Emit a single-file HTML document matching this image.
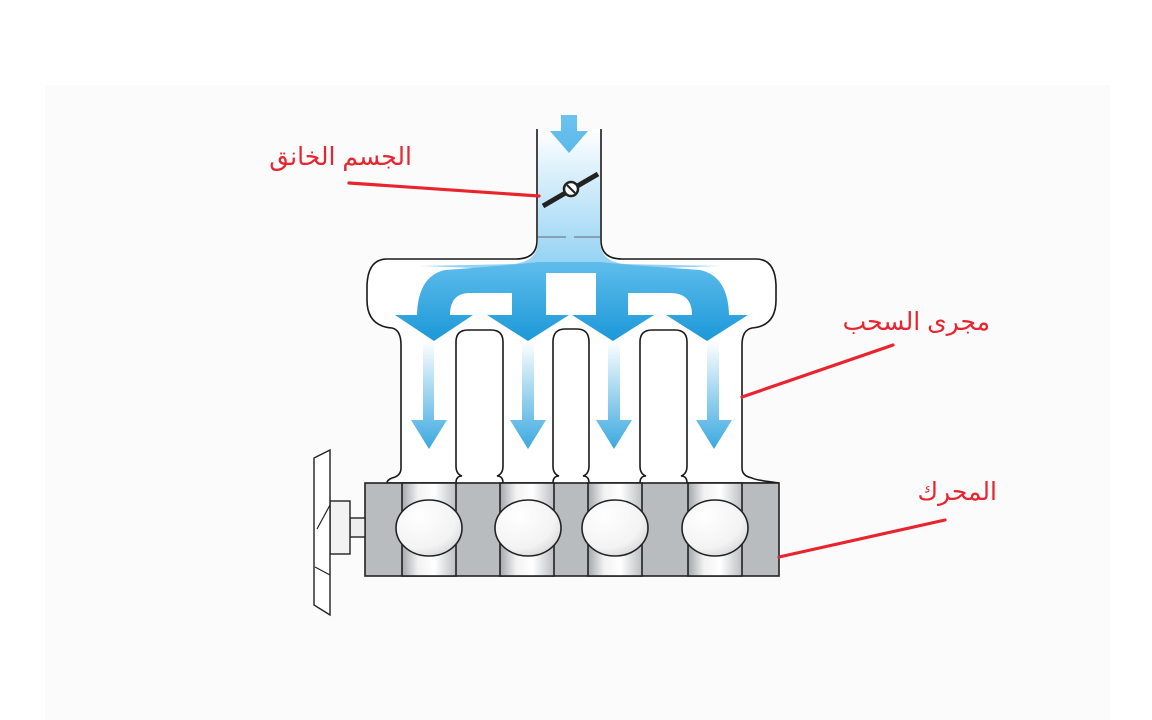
<!DOCTYPE html>
<html><head><meta charset="utf-8"><style>
html,body{margin:0;padding:0;background:#fff;}
svg{display:block;}
text{font-family:"Liberation Sans","DejaVu Sans",sans-serif;}
</style></head><body>
<svg width="1152" height="720" viewBox="0 0 1152 720" xmlns="http://www.w3.org/2000/svg">
<defs>
<linearGradient id="tube" x1="0" y1="0" x2="0" y2="1">
<stop offset="0" stop-color="#ffffff"/><stop offset="0.35" stop-color="#d6eefb"/><stop offset="1" stop-color="#8fd0f3"/>
</linearGradient>
<linearGradient id="flow" x1="0" y1="0" x2="0" y2="1">
<stop offset="0" stop-color="#5fbdec"/><stop offset="1" stop-color="#1c98d8"/>
</linearGradient>
<linearGradient id="down" x1="0" y1="0" x2="0" y2="1">
<stop offset="0" stop-color="#ffffff"/><stop offset="1" stop-color="#3aa8e0"/>
</linearGradient>
<linearGradient id="topar" x1="0" y1="0" x2="0" y2="1">
<stop offset="0" stop-color="#6cc3ee"/><stop offset="1" stop-color="#5ab9ea"/>
</linearGradient>
<linearGradient id="bore" x1="0" y1="0" x2="1" y2="0">
<stop offset="0" stop-color="#a4a8ac"/><stop offset="0.3" stop-color="#f2f2f2"/><stop offset="0.6" stop-color="#ffffff"/><stop offset="1" stop-color="#bcbfc2"/>
</linearGradient>
<radialGradient id="pist" cx="0.35" cy="0.3" r="0.8">
<stop offset="0" stop-color="#ffffff"/><stop offset="0.7" stop-color="#f3f3f3"/><stop offset="1" stop-color="#d5d5d5"/>
</radialGradient>
</defs>
<rect x="0" y="0" width="1152" height="720" fill="#ffffff"/>
<rect x="45" y="85" width="1065" height="635" fill="#fbfbfc"/>

<g fill="#fff" stroke="#1a1a1a" stroke-width="1.6">
<path d="M537,129 L537,240 Q537,259 516,259 L387,259 Q368,259 367,285 L367,300 Q367,326 392,328 Q401,330 401,345 L401,468 Q401,476 392,478 Q387,480 387,483 L779,483 Q755,480 752,478 Q742,476 742,468 L742,345 Q742,330 752,328 Q776,326 776,300 L776,285 Q775,259 756,259 L622,259 Q601,259 601,240 L601,129"/>
</g>
<g fill="#fff" stroke="#1a1a1a" stroke-width="1.6">
<path d="M456,483 Q456,476 462,476 L462,476 Q456,474 456,466 L456,342 Q456,330 468,330 L491,330 Q503,330 503,342 L503,466 Q503,474 497,476 Q503,476 503,483"/>
<path d="M553,483 Q553,476 559,476 Q553,474 553,466 L553,342 Q553,329 565,329 L577,329 Q589,329 589,342 L589,466 Q589,474 583,476 Q589,476 589,483"/>
<path d="M640,483 Q640,476 646,476 Q640,474 640,466 L640,342 Q640,330 652,330 L675,330 Q687,330 687,342 L687,466 Q687,474 681,476 Q687,476 687,483"/>
</g>
<path d="M538,129 L600,129 L600,240 Q600,262 625,264 L720,266 Q650,268 600,272 L538,272 Q490,268 420,266 L513,264 Q538,262 538,240 Z" fill="url(#tube)"/>
<line x1="538" y1="237" x2="566" y2="237" stroke="#667" stroke-width="1"/>
<line x1="574" y1="237" x2="600" y2="237" stroke="#667" stroke-width="1"/>
<path d="M561,115 L577,115 L577,131 L588,131 L569,153 L550,131 L561,131 Z" fill="url(#topar)"/>
<line x1="543" y1="206" x2="598" y2="174" stroke="#222" stroke-width="5"/>
<circle cx="571" cy="189" r="7" fill="#fff" stroke="#222" stroke-width="2.5"/>
<line x1="567" y1="185" x2="575" y2="193" stroke="#222" stroke-width="2"/>

<path d="M538,262 L600,262 Q640,266 700,270 Q728,276 729,315 L748,315 L707,341 L666,315 L692,315 Q692,293 670,293 L628,293 L628,315 L654,315 L613,341 L572,315 L596,315 L596,273 L546,273 L546,315 L569,315 L528,341 L487,315 L512,315 L512,293 L470,293 Q450,293 450,315 L473,315 L434,341 L395,315 L417,315 Q418,276 445,270 Q500,266 538,262 Z" fill="url(#flow)"/>
<rect x="546" y="273" width="50" height="35" fill="#fff"/>

<g fill="url(#down)">
<path d="M423,341 L434,341 L434,420 L447,420 L429,449 L411,420 L423,420 Z"/>
<path d="M522,341 L534,341 L534,420 L546,420 L528,449 L510,420 L522,420 Z"/>
<path d="M608,341 L620,341 L620,420 L632,420 L614,449 L596,420 L608,420 Z"/>
<path d="M707,341 L719,341 L719,420 L732,420 L714,449 L696,420 L707,420 Z"/>
</g>

<rect x="365" y="483" width="414" height="93" fill="#b8bcbf" stroke="#222" stroke-width="1.6"/>
<g stroke="#222" stroke-width="1.6">
<rect x="402" y="483" width="54" height="93" fill="url(#bore)"/>
<rect x="500" y="483" width="54" height="93" fill="url(#bore)"/>
<rect x="588" y="483" width="54" height="93" fill="url(#bore)"/>
<rect x="688" y="483" width="54" height="93" fill="url(#bore)"/>
</g>
<g fill="url(#pist)" stroke="#222" stroke-width="1.6">
<ellipse cx="429" cy="528" rx="33" ry="28"/>
<ellipse cx="528" cy="528" rx="33" ry="28"/>
<ellipse cx="615" cy="528" rx="33" ry="28"/>
<ellipse cx="715" cy="528" rx="33" ry="28"/>
</g>
<rect x="350" y="518" width="15" height="19" fill="#eee" stroke="#222" stroke-width="1.4"/>
<rect x="330" y="501" width="20" height="53" fill="#f2f2f2" stroke="#222" stroke-width="1.4"/>
<path d="M314,458 L330,450 L330,615 L314,605 Z" fill="#fff" stroke="#222" stroke-width="1.4"/>
<path d="M317,529 L330,505 M315,567 L330,575" stroke="#222" stroke-width="1.2" fill="none"/>

<g stroke="#e8242e" stroke-width="3.2" stroke-linecap="round" fill="none">
<line x1="349" y1="183" x2="539" y2="196"/>
<line x1="893" y1="345" x2="742" y2="397"/>
<line x1="945" y1="520" x2="779" y2="557"/>
</g>
<g fill="#e8242e" font-size="25" direction="rtl">
<text x="412" y="165" text-anchor="start">الجسم الخانق</text>
<text x="990" y="330" text-anchor="start">مجرى السحب</text>
<text x="997" y="500" text-anchor="start">المحرك</text>
</g>
</svg>
</body></html>
